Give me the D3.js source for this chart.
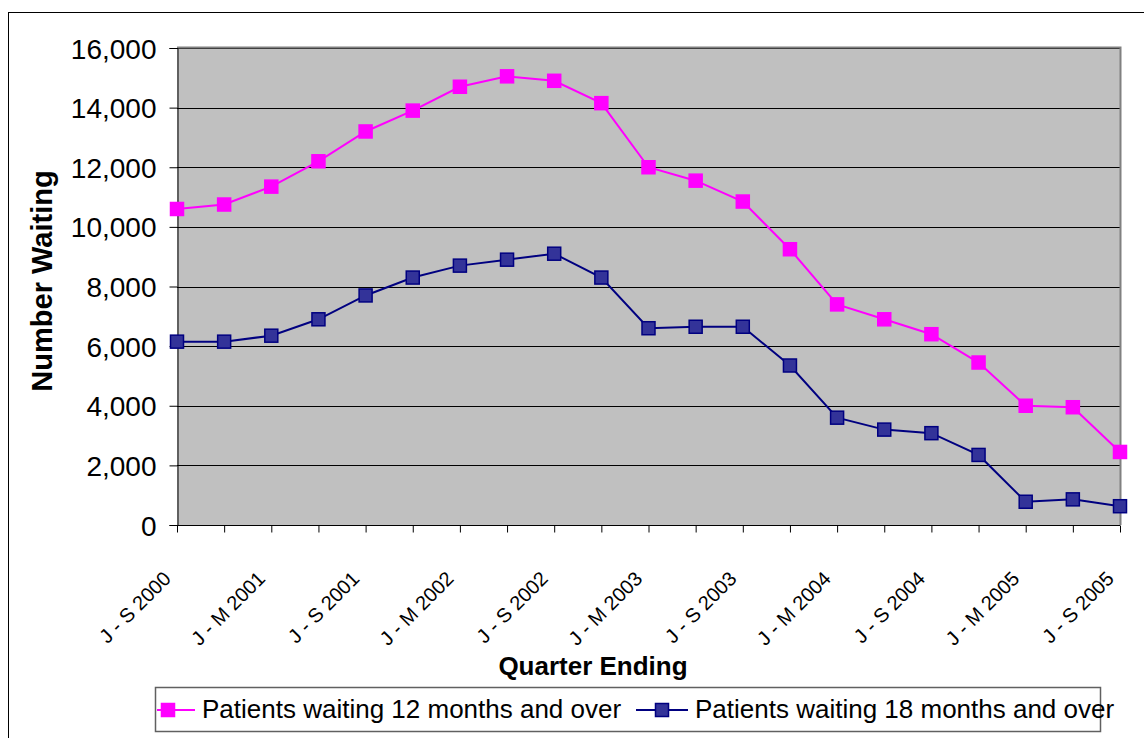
<!DOCTYPE html>
<meta charset="utf-8">
<style>
  body { margin: 0; background: #fff; }
  svg { font-family: Arial, "Liberation Sans", sans-serif; }
</style>
<script src="https://d3js.org/d3.v7.min.js"></script>
<div id="chart"></div>
<script>

// quarters (every other one labelled on the axis)
var quarters = ["J - S 2000", "O - D 2000", "J - M 2001", "A - J 2001", "J - S 2001", "O - D 2001",
  "J - M 2002", "A - J 2002", "J - S 2002", "O - D 2002", "J - M 2003", "A - J 2003",
  "J - S 2003", "O - D 2003", "J - M 2004", "A - J 2004", "J - S 2004", "O - D 2004",
  "J - M 2005", "A - J 2005", "J - S 2005"];

var waiting12 = [10600, 10750, 11350, 12200, 13200, 13900, 14700, 15050, 14900, 14150, 12000,
  11550, 10850, 9250, 7400, 6900, 6400, 5450, 4000, 3950, 2450];

var waiting18 = [6150, 6150, 6350, 6900, 7700, 8300, 8700, 8900, 9100, 8300, 6600,
  6650, 6650, 5350, 3600, 3200, 3080, 2350, 780, 860, 630];

var yTicks = [0, 2000, 4000, 6000, 8000, 10000, 12000, 14000, 16000];

var series = [
  {name: "Patients waiting 12 months and over", values: waiting12, line: "#FF00FF", fill: "#FF00FF", stroke: "#FF00FF"},
  {name: "Patients waiting 18 months and over", values: waiting18, line: "#000080", fill: "#333399", stroke: "#000080"}
];

var W = 1144, H = 738;
var plotL = 177, plotR = 1120, plotT = 48, plotB = 525;

var svg = d3.select("#chart").append("svg")
    .attr("width", W)
    .attr("height", H);

// outer chart frame (runs off the right and bottom edge)
svg.append("rect")
    .attr("x", 8.5).attr("y", 12.5)
    .attr("width", W + 20).attr("height", H + 20)
    .attr("fill", "#fff")
    .attr("stroke", "#000");

var x = d3.scalePoint()
    .domain(quarters)
    .range([plotL, plotR]);

var y = d3.scaleLinear()
    .domain([0, 16000])
    .range([plotB, plotT]);

// plot area
svg.append("rect")
    .attr("x", plotL).attr("y", plotT)
    .attr("width", plotR - plotL).attr("height", plotB - plotT)
    .attr("fill", "#C0C0C0");

// grid lines
svg.append("g")
  .selectAll("line")
  .data(yTicks.slice(1))
  .enter().append("line")
    .attr("x1", plotL).attr("x2", plotR)
    .attr("y1", function(d) { return Math.round(y(d)) + 0.5; })
    .attr("y2", function(d) { return Math.round(y(d)) + 0.5; })
    .attr("stroke", "#000")
    .attr("stroke-width", 1);

// top / right border of plot area
svg.append("path")
    .attr("d", "M" + plotL + "," + (plotT - 0.5) + "H" + (plotR + 0.5) + "V" + plotB)
    .attr("fill", "none")
    .attr("stroke", "#808080")
    .attr("stroke-width", 2);

// Y axis
var yAxis = svg.append("g")
    .attr("transform", "translate(" + (plotL + 0.5) + ",0)")
    .call(d3.axisLeft(y).tickValues(yTicks).tickSize(8).tickPadding(13)
      .tickFormat(d3.format(",")));
yAxis.select(".domain").attr("stroke", "#000");
yAxis.selectAll(".tick line").attr("stroke", "#000");
yAxis.selectAll("text")
    .attr("font-family", "Arial, 'Liberation Sans', sans-serif")
    .attr("font-size", 28)
    .attr("fill", "#000")
    .attr("dy", "0.36em");

// X axis
var xAxis = svg.append("g")
    .attr("transform", "translate(0," + (plotB + 0.5) + ")")
    .call(d3.axisBottom(x).tickSize(7).tickFormat(""));
xAxis.select(".domain").attr("stroke", "#000").attr("d", "M" + plotL + ",0H" + plotR);
xAxis.selectAll(".tick line").attr("stroke", "#000");

svg.append("g")
  .selectAll("text")
  .data(quarters.filter(function(d, i) { return i % 2 === 0; }))
  .enter().append("text")
    .attr("transform", function(d) { return "translate(" + (x(d) - 5) + ",580) rotate(-45)"; })
    .attr("text-anchor", "end")
    .attr("font-size", 20)
    .attr("fill", "#000")
    .text(function(d) { return d; });

// axis titles
svg.append("text")
    .attr("transform", "translate(52,281) rotate(-90)")
    .attr("text-anchor", "middle")
    .attr("font-size", 29)
    .attr("font-weight", "bold")
    .text("Number Waiting");

svg.append("text")
    .attr("x", 593).attr("y", 675)
    .attr("text-anchor", "middle")
    .attr("font-size", 26)
    .attr("font-weight", "bold")
    .text("Quarter Ending");

// lines and markers
var line = d3.line()
    .x(function(d, i) { return x(quarters[i]); })
    .y(function(d) { return y(d); });

series.forEach(function(s) {
  svg.append("path")
      .datum(s.values)
      .attr("d", line)
      .attr("fill", "none")
      .attr("stroke", s.line)
      .attr("stroke-width", 2);

  svg.append("g")
    .selectAll("rect")
    .data(s.values)
    .enter().append("rect")
      .attr("x", function(d, i) { return x(quarters[i]) - 6.5; })
      .attr("y", function(d) { return y(d) - 6.5; })
      .attr("width", 13).attr("height", 13)
      .attr("fill", s.fill)
      .attr("stroke", s.stroke)
      .attr("stroke-width", 1.5);
});

// legend
var legend = svg.append("g");
legend.append("rect")
    .attr("x", 155.5).attr("y", 687.5)
    .attr("width", 945).attr("height", 44)
    .attr("fill", "#fff")
    .attr("stroke", "#606060")
    .attr("stroke-width", 1.5);

var legendItems = [
  {start: 157, end: 195, mid: 168},
  {start: 636, end: 688, mid: 662}
];
series.forEach(function(s, i) {
  var it = legendItems[i];
  legend.append("line")
      .attr("x1", it.start).attr("x2", it.end)
      .attr("y1", 710).attr("y2", 710)
      .attr("stroke", s.line).attr("stroke-width", 2);
  legend.append("rect")
      .attr("x", it.mid - 6.5).attr("y", 710 - 6.5)
      .attr("width", 13).attr("height", 13)
      .attr("fill", s.fill).attr("stroke", s.stroke).attr("stroke-width", 1.5);
  legend.append("text")
      .attr("x", it.end + 7).attr("y", 718)
      .attr("font-size", 26)
      .attr("fill", "#000")
      .text(s.name);
});

</script>
